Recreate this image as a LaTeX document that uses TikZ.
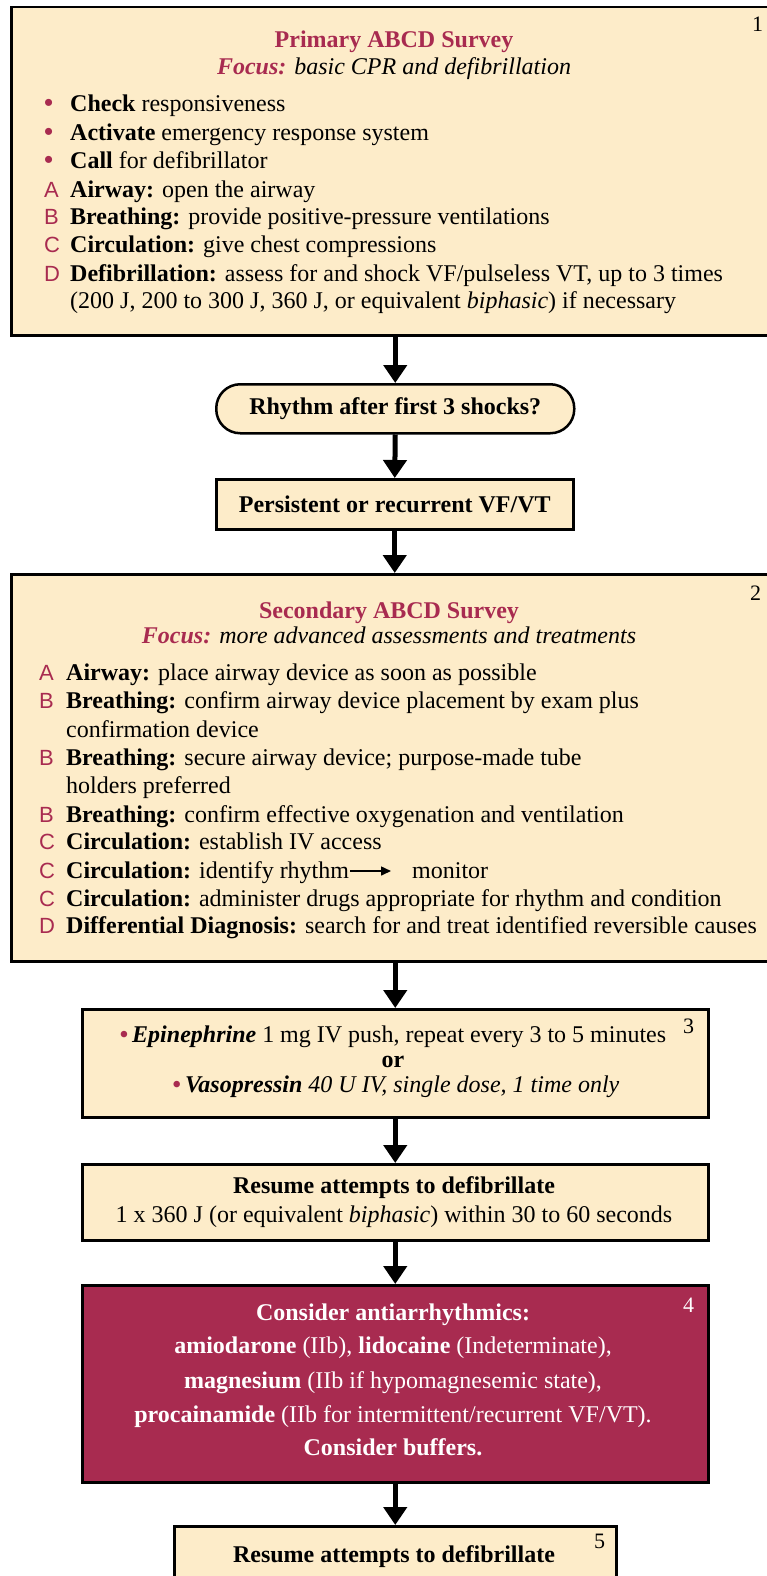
\documentclass[tikz,border=0pt]{standalone}
\usepackage{fontspec}
\setmainfont{Liberation Serif}
\newfontfamily\labfont{Liberation Sans}
\usetikzlibrary{arrows.meta,calc}
\definecolor{cream}{RGB}{253,236,201}
\definecolor{maroon}{RGB}{168,43,80}
\begin{document}
\begin{tikzpicture}[x=1pt,y=-1pt,
  box/.style={draw=black, line width=2.5pt, fill=cream, inner sep=0pt, anchor=north west},
  flow/.style={line width=5pt, -{Triangle[width=23pt,length=18pt]}},
  body/.style={font=\fontsize{24}{28}\selectfont},
  bbody/.style={font=\fontsize{24}{28}\selectfont\bfseries},
  ctxt/.style={inner sep=0pt, anchor=base, body},
  item/.style={inner sep=0pt, anchor=base west, body},
  lab/.style={inner sep=0pt, anchor=base west, text=maroon, font=\fontsize{22}{26}\labfont},
  dot/.style={inner sep=0pt, anchor=base west, text=maroon, font=\fontsize{26}{28}\bfseries},
  num/.style={inner sep=0pt, anchor=base west, font=\fontsize{22}{26}\selectfont},
]
\useasboundingbox (0,0) rectangle (767,1576);

% ---------- Box 1 ----------
\node[box, minimum width=800pt, minimum height=328pt] (b1) at (10,6) {};
\node[num] (n1) at (752,32) {1};
\node[ctxt, text=maroon, bbody] (b1t) at (394,48) {Primary ABCD Survey};
\node[ctxt] (b1f) at (394,75) {\textcolor{maroon}{\textbf{\textit{Focus:}}} \textit{basic CPR and defibrillation}};
\node[dot] (b1l1) at (44,112) {•};
\node[item] (b1i1) at (70,112) {\textbf{Check} responsiveness};
\node[dot] (b1l2) at (44,140) {•};
\node[item] (b1i2) at (70,140) {\textbf{Activate} emergency response system};
\node[dot] (b1l3) at (44,168) {•};
\node[item] (b1i3) at (70,168) {\textbf{Call} for defibrillator};
\node[lab] (b1l4) at (44,197) {A};
\node[item] (b1i4) at (70,197) {\textbf{Airway:} open the airway};
\node[lab] (b1l5) at (44,224) {B};
\node[item] (b1i5) at (70,224) {\textbf{Breathing:} provide positive-pressure ventilations};
\node[lab] (b1l6) at (44,252) {C};
\node[item] (b1i6) at (70,252) {\textbf{Circulation:} give chest compressions};
\node[lab] (b1l7) at (44,281) {D};
\node[item] (b1i7) at (70,281) {\textbf{Defibrillation:} assess for and shock VF/pulseless VT, up to 3 times};
\node[item] (b1i8) at (70,308) {(200 J, 200 to 300 J, 360 J, or equivalent \textit{biphasic}) if necessary};

% ---------- Rhythm ----------
\node[box, rounded corners=24pt, minimum width=358pt, minimum height=49pt, bbody] (rh) at (215,383) {Rhythm after first 3 shocks?};
\node[box, minimum width=357pt, minimum height=50pt, bbody] (pe) at (215,478) {Persistent or recurrent VF/VT};

% ---------- Box 2 ----------
\node[box, minimum width=800pt, minimum height=387pt] (b2) at (10,573) {};
\node[num] (n2) at (750,600) {2};
\node[ctxt, text=maroon, bbody] (b2t) at (389,618) {Secondary ABCD Survey};
\node[ctxt] (b2f) at (389,643) {\textcolor{maroon}{\textbf{\textit{Focus:}}} \textit{more advanced assessments and treatments}};
\node[lab] (b2l1) at (39,680) {A};
\node[item] (b2i1) at (66,680) {\textbf{Airway:} place airway device as soon as possible};
\node[lab] (b2l2) at (39,708) {B};
\node[item] (b2i2) at (66,708) {\textbf{Breathing:} confirm airway device placement by exam plus};
\node[item] (b2i2b) at (66,737) {confirmation device};
\node[lab] (b2l3) at (39,765) {B};
\node[item] (b2i3) at (66,765) {\textbf{Breathing:} secure airway device; purpose-made tube};
\node[item] (b2i3b) at (66,793) {holders preferred};
\node[lab] (b2l4) at (39,822) {B};
\node[item] (b2i4) at (66,822) {\textbf{Breathing:} confirm effective oxygenation and ventilation};
\node[lab] (b2l5) at (39,849) {C};
\node[item] (b2i5) at (66,849) {\textbf{Circulation:} establish IV access};
\node[lab] (b2l6) at (39,878) {C};
\node[item] (b2i6) at (66,878) {\textbf{Circulation:} identify rhythm};
\node[item] (b2i6b) at (412,878) {monitor};
\node[lab] (b2l7) at (39,906) {C};
\node[item] (b2i7) at (66,906) {\textbf{Circulation:} administer drugs appropriate for rhythm and condition};
\node[lab] (b2l8) at (39,933) {D};
\node[item] (b2i8) at (66,933) {\textbf{Differential Diagnosis:} search for and treat identified reversible causes};

% ---------- Box 3 ----------
\node[box, minimum width=626pt, minimum height=108pt] (b3) at (81,1008) {};
\node[num] (n3) at (683,1033) {3};
\node[ctxt] (b3a) at (393,1042) {\textcolor{maroon}{\textbf{•}}\,\textbf{\textit{Epinephrine}} 1 mg IV push, repeat every 3 to 5 minutes};
\node[ctxt, bbody] (b3b) at (393,1067) {or};
\node[ctxt] (b3c) at (396,1092) {\textcolor{maroon}{\textbf{•}}\,\textit{\textbf{Vasopressin} 40 U IV, single dose, 1 time only}};

% ---------- Resume ----------
\node[box, minimum width=626pt, minimum height=76pt] (re) at (81,1163) {};
\node[ctxt, bbody] (ret) at (394,1193) {Resume attempts to defibrillate};
\node[ctxt] (res) at (394,1222) {1 x 360 J (or equivalent \textit{biphasic}) within 30 to 60 seconds};

% ---------- Box 4 ----------
\node[box, fill=maroon, minimum width=626pt, minimum height=197pt] (b4) at (81,1284) {};
\node[num, text=white] (n4) at (683,1312) {4};
\begin{scope}[every node/.append style={text=white}]
\node[ctxt, bbody] (b4a) at (393,1320) {Consider antiarrhythmics:};
\node[ctxt] (b4b) at (393,1353) {\textbf{amiodarone} (IIb), \textbf{lidocaine} (Indeterminate),};
\node[ctxt] (b4c) at (393,1388) {\textbf{magnesium} (IIb if hypomagnesemic state),};
\node[ctxt] (b4d) at (393,1422) {\textbf{procainamide} (IIb for intermittent/recurrent VF/VT).};
\node[ctxt, bbody] (b4e) at (393,1455) {Consider buffers.};
\end{scope}

% ---------- Box 5 ----------
\node[box, minimum width=442pt, minimum height=90pt] (b5) at (173,1525) {};
\node[num] (n5) at (594,1548) {5};
\node[ctxt, bbody] (b5t) at (394,1562) {Resume attempts to defibrillate};

% ---------- Connectors ----------
\draw[flow] (rh.north |- b1.south) -- (rh.north);
\draw[flow] (rh.south) -- (pe.north);
\draw[flow] (pe.south) -- (pe.south |- b2.north);
\draw[flow] (b3.north |- b2.south) -- (b3.north);
\draw[flow] (b3.south) -- (re.north);
\draw[flow] (re.south) -- (b4.north);
\draw[flow] (b4.south) -- (b5.north);
\draw[line width=1.5pt, -{Triangle[width=9pt,length=10pt]}] ($(b2i6.base east)+(1,-7)$) -- ($(b2i6b.base west)+(-21,-7)$);
\end{tikzpicture}
\end{document}
